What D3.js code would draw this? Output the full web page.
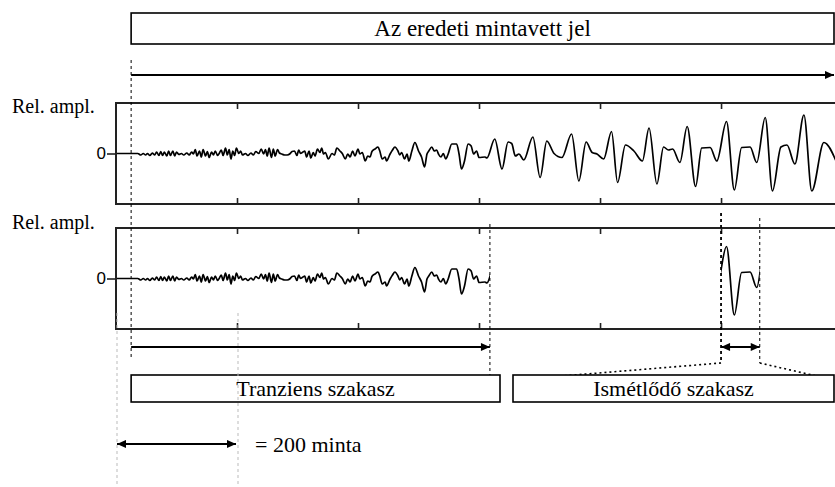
<!DOCTYPE html>
<html>
<head>
<meta charset="utf-8">
<script src="https://cdn.jsdelivr.net/npm/d3@7"></script>
<style>
  html, body { margin: 0; padding: 0; background: #fff; }
  svg { display: block; }
</style>
</head>
<body>
<svg id="chart" width="835" height="487"></svg>
<script>
// Sampled signal, as [sample index, relative amplitude] pairs.
// Low-level start of the recording (noise-like build-up).
const signalStart = [
  [0, 0], [36, 0], [41, -0.03], [45, 0], [49, -0.03], [52, 0], [56, -0.04], [60, 0.01],
  [64, -0.03], [67, 0.03], [71, -0.04], [74, 0.04], [77, -0.04], [80, 0.03], [84, -0.05],
  [87, 0.05], [90, -0.04], [94, 0.05], [97, -0.05], [100, 0.03], [104, -0.02], [108, 0],
  [112, -0.03], [117, 0.01], [121, -0.03], [125, 0.03], [128, -0.01], [131, 0.08],
  [134, -0.05], [138, 0.05], [141, -0.07], [144, 0.08], [148, -0.05], [151, 0.04],
  [154, -0.08], [158, 0.03], [161, -0.03], [164, 0.05], [168, -0.04], [171, 0.01],
  [174, 0.07], [177, -0.04], [181, 0.11], [184, -0.03], [187, 0.08], [190, -0.11],
  [193, 0.05], [196, -0.04], [199, 0.11], [203, 0], [206, 0.05], [209, -0.03], [214, 0],
  [218, -0.04], [223, 0.01], [227, -0.03], [231, 0.04], [236, 0], [240, 0.09], [244, -0.01],
  [247, 0.08], [250, -0.05], [253, 0.11], [257, -0.08], [260, 0.09], [263, -0.05],
  [267, 0.08], [270, 0.01], [274, -0.01], [279, -0.03], [283, -0.03], [288, 0], [291, 0.04],
  [295, 0.05], [299, -0.04], [302, 0.07], [305, 0], [309, 0.03]
];
// Growing oscillation up to the end of the transient.
const signalMid = [
  [312, 0.05], [315, -0.07], [319, 0.05], [322, -0.09], [326, 0.02], [329, -0.05],
  [333, 0.09], [337, 0.02], [340, 0.11], [343, -0.01], [346, 0.02], [351, -0.11],
  [357, 0], [361, -0.03], [365, 0.11], [370, 0.05], [374, 0], [379, -0.11], [383, -0.01],
  [387, -0.07], [391, 0.05], [395, -0.05], [400, 0.09], [403, -0.01], [407, 0.02],
  [412, -0.15], [416, -0.05], [420, -0.07], [423, 0.04], [428, 0.09], [433, 0.13],
  [436, 0.05], [440, -0.11], [445, -0.07], [447, -0.15], [453, -0.01], [457, 0.07],
  [461, 0.13], [466, 0.05], [469, -0.03], [472, 0.02], [477, -0.11], [481, -0.01],
  [484, -0.15], [489, 0.05], [494, 0.22], [500, 0.05], [505, -0.07], [510, -0.27],
  [514, -0.01], [517, 0.05], [522, 0.13], [526, 0.05], [530, 0.07], [533, -0.01],
  [537, -0.07], [541, 0], [545, -0.11], [549, -0.01], [555, 0.19], [563, 0.19],
  [567, -0.01], [571, -0.31], [576, -0.15], [582, 0.19], [587, 0.15], [591, -0.01],
  [596, 0.05], [600, -0.08], [610, -0.07]
];
// Quasi-periodic part of the recording.
const signalLate = [
  [613, -0.09], [626, 0.29], [638, -0.31], [648, 0.23], [654, 0.2], [660, -0.05],
  [666, -0.01], [674, -0.13], [689, 0.33], [701, -0.48], [712, 0.25], [724, 0],
  [737, -0.08], [753, 0.39], [765, -0.55], [777, 0.23], [787, 0.02], [795, -0.01],
  [806, -0.11], [819, 0.44], [829, -0.58], [842, 0.17], [856, 0.05], [870, -0.15],
  [881, 0.51], [894, -0.61], [905, 0.13], [913, 0.07], [920, 0.09], [932, -0.18],
  [944, 0.54], [958, -0.66], [968, 0.11], [982, 0.12], [993, -0.15], [1009, 0.64],
  [1022, -0.73], [1034, 0.12], [1048, 0.13], [1059, -0.18], [1073, 0.72], [1085, -0.75],
  [1099, 0.13], [1109, 0.17], [1122, -0.21], [1137, 0.77], [1150, -0.75], [1170, 0.22],
  [1190, -0.15]
];

const sampleTicks = [200, 400, 600, 800, 1000];
const zeroTick = [0];
const recordStart = 25;      // first sample of the recording
const transientEnd = 618;    // end of the transient section
const periodStart = 1000;    // one period of the repeating section
const periodEnd = 1064;
const scaleSamples = [0, 200];

const titleText = "Az eredeti mintavett jel";
const transientText = "Tranziens szakasz";
const periodicText = "Ismétlődő szakasz";
const scaleText = "= 200 minta";
const ampText = "Rel. ampl.";

const SERIF = "'Liberation Serif', 'DejaVu Serif', serif";
const SANS = "'Liberation Sans', 'DejaVu Sans', sans-serif";

const signal = signalStart.concat(signalMid, signalLate);

const svg = d3.select("#chart");
const x = d3.scaleLinear().domain([0, 1190]).range([116, 836]);

// arrowheads
const defs = svg.append("defs");
function marker(id, d) {
  defs.append("marker")
    .attr("id", id).attr("viewBox", "0 0 10 10")
    .attr("refX", id === "headEnd" ? 10 : 0).attr("refY", 5)
    .attr("markerWidth", 10).attr("markerHeight", 9)
    .attr("markerUnits", "userSpaceOnUse")
    .attr("orient", "auto")
    .append("path").attr("d", d).attr("fill", "#000");
}
marker("headEnd", "M0,0.5 L10,5 L0,9.5 Z");
marker("headStart", "M10,0.5 L0,5 L10,9.5 Z");

function arrow(x1, x2, yPos, both) {
  svg.append("line")
    .attr("x1", x1).attr("x2", x2).attr("y1", yPos).attr("y2", yPos)
    .attr("stroke", "#000").attr("stroke-width", 2)
    .attr("marker-end", "url(#headEnd)")
    .attr("marker-start", both ? "url(#headStart)" : null);
}

function serifText(xPos, yPos, text, size, anchor) {
  return svg.append("text")
    .attr("x", xPos).attr("y", yPos)
    .attr("font-family", SERIF).attr("font-size", size)
    .attr("text-anchor", anchor || "start").attr("fill", "#000")
    .text(text);
}

function labelBox(x1, x2, y1, y2, text, size) {
  svg.append("rect")
    .attr("x", x1).attr("y", y1).attr("width", x2 - x1).attr("height", y2 - y1)
    .attr("fill", "#fff").attr("stroke", "#000").attr("stroke-width", 1.6);
  serifText((x1 + x2) / 2, (y1 + y2) / 2 + size * 0.33, text, size, "middle");
}

function vDash(xPos, y1, y2, color, width, dash) {
  svg.append("line")
    .attr("x1", xPos).attr("x2", xPos).attr("y1", y1).attr("y2", y2)
    .attr("stroke", color).attr("stroke-width", width)
    .attr("stroke-dasharray", dash);
}

const line = d3.line()
  .x(d => x(d[0]))
  .y(d => d[1])
  .curve(d3.curveMonotoneX);

// one amplitude panel; ranges = sample windows of the signal that are shown
function panel(name, top, bottom, labelY, ranges) {
  const zero = (top + bottom) / 2;
  const y = d3.scaleLinear().domain([-1, 1]).range([zero + 50, zero - 50]);
  const g = svg.append("g");

  ranges.forEach((r, i) => {
    defs.append("clipPath").attr("id", name + "clip" + i)
      .append("rect")
      .attr("x", x(r[0])).attr("width", x(r[1]) - x(r[0]))
      .attr("y", top).attr("height", bottom - top);
    g.append("path")
      .datum(signal.map(d => [d[0], y(d[1])]))
      .attr("clip-path", "url(#" + name + "clip" + i + ")")
      .attr("fill", "none").attr("stroke", "#000")
      .attr("stroke-width", 1.7).attr("stroke-linejoin", "round")
      .attr("d", line);
  });

  g.append("rect")
    .attr("x", x(0)).attr("y", top).attr("width", 760).attr("height", bottom - top)
    .attr("fill", "none").attr("stroke", "#222").attr("stroke-width", 2);

  const tTop = g.append("g").attr("transform", `translate(0,${top})`)
    .call(d3.axisBottom(x).tickValues(sampleTicks).tickSize(6).tickFormat(""));
  const tBot = g.append("g").attr("transform", `translate(0,${bottom})`)
    .call(d3.axisTop(x).tickValues(sampleTicks).tickSize(6).tickFormat(""));
  [tTop, tBot].forEach(a => {
    a.select(".domain").remove();
    a.selectAll("line").attr("stroke", "#222").attr("stroke-width", 1.6);
  });

  const ya = g.append("g").attr("transform", `translate(${x(0)},0)`)
    .call(d3.axisLeft(y).tickValues(zeroTick).tickSize(9).tickPadding(1).tickFormat(d3.format("d")));
  ya.select(".domain").remove();
  ya.selectAll("line").attr("stroke", "#222").attr("stroke-width", 1.6);
  ya.selectAll("text")
    .attr("font-family", SANS)
    .attr("font-size", 17).attr("fill", "#000");

  serifText(12, labelY, ampText, 20);
}

// title and overall record arrow
labelBox(x(recordStart), 834, 13, 44, titleText, 23);
arrow(x(recordStart), 834, 75, false);

panel("top", 103, 204, 113, [[0, 1190]]);
panel("bot", 228, 329, 229, [[0, transientEnd], [periodStart, periodEnd]]);

// section markers
vDash(x(recordStart), 60, 357, "#000", 1, "3,3");
vDash(x(transientEnd), 224, 380, "#000", 1, "3,3");
vDash(x(periodStart), 213, 363, "#000", 1.8, "3,3");
vDash(x(periodEnd), 218, 363, "#000", 1, "3,3");

arrow(x(recordStart), x(transientEnd), 347, false);
arrow(x(periodStart), x(periodEnd), 347, true);

// projection of the repeating section onto its label box
svg.append("path")
  .attr("d", `M${x(periodStart)},363 L513,380`)
  .attr("fill", "none").attr("stroke", "#000").attr("stroke-width", 1.6)
  .attr("stroke-dasharray", "2,3");
svg.append("path")
  .attr("d", `M${x(periodEnd)},363 L834,380`)
  .attr("fill", "none").attr("stroke", "#000").attr("stroke-width", 1.6)
  .attr("stroke-dasharray", "2,3");

labelBox(x(recordStart), 500, 375, 402, transientText, 22);
labelBox(513, 834, 375, 402, periodicText, 22);

// scale reference: 200 samples
scaleSamples.forEach(s => vDash(x(s) + 1, 313, 487, "#bbb", 1, "3,3"));
arrow(x(scaleSamples[0]) + 1, x(scaleSamples[1]) - 1, 444, true);
serifText(255, 452, scaleText, 22);
</script>
</body>
</html>
